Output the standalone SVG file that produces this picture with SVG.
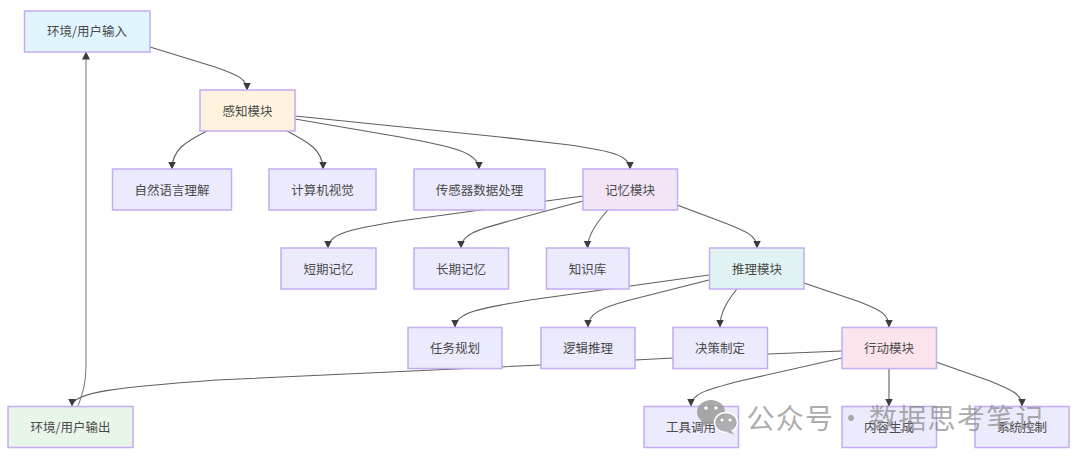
<svg xmlns="http://www.w3.org/2000/svg" width="1080" height="460" viewBox="0 0 1080 460">
<style>
text{font-family:"Noto Sans CJK SC","Liberation Sans",sans-serif;font-size:12.5px;fill:#4a4a4a;text-anchor:middle;dominant-baseline:central}
.n rect{stroke:#c4abf2;stroke-width:1.5;fill:#ebebfd}
.e path{fill:none;stroke:#5f5f5f;stroke-width:1.1;marker-end:url(#a)}
text.wm{font-size:28px;fill:#8c8c8c;fill-opacity:.72;letter-spacing:1.3px;text-anchor:start}
</style>
<defs><marker id="a" markerUnits="userSpaceOnUse" markerWidth="9" markerHeight="8" refX="7.500" refY="4" orient="auto"><path d="M0 0L8 4L0 8z" fill="#3c3c3c"/></marker></defs>
<rect width="1080" height="460" fill="#fff"/>
<g id="connectors" class="e">
<path d="M150 47L215 67C238 75 247 79 247 90"/>
<path d="M207 131C185 142 172 150 172 169"/>
<path d="M287 131C308 142 323 150 323 169"/>
<path d="M295 119L400 137C450 146 479 152 479 169"/>
<path d="M295 116L500 137L570 145C610 151 630 155 630 169"/>
<path d="M583 196L400 221C350 229 328 234 328 248"/>
<path d="M583 201L520 218C485 228 461 232 461 248"/>
<path d="M608 210C597 222 587.500 235 587.500 248"/>
<path d="M677 205L725 223C748 232 757 236 757 248"/>
<path d="M709 275L530 300C480 308 455 313 455 327"/>
<path d="M709 280L630 300C600 308 588 314 588 327"/>
<path d="M737 289C728 300 720 312 720 327"/>
<path d="M804 283L860 302C880 310 889 314 889 327"/>
<path d="M842 351L673 358L541 365L217 380C120 387 72 392 72 406"/>
<path d="M842 358L740 381C705 390 691 394 691 406"/>
<path d="M889 368L889 406"/>
<path d="M936 362L990 381C1012 390 1022 394 1022 406"/>
<path d="M78 406C84 390 86 380 86 365L86 52" style="stroke:#808080"/>
</g>
<g id="n1" class="n"><rect x="24.500" y="11" width="125.500" height="41" style="fill:#e1f5fe"/><text x="87" y="30.500">环境/用户输入</text></g>
<g id="n2" class="n"><rect x="200" y="90" width="95" height="41" style="fill:#fff3e0"/><text x="247.500" y="110">感知模块</text></g>
<g id="n3" class="n"><rect x="112.500" y="169" width="119" height="41"/><text x="172" y="189">自然语言理解</text></g>
<g id="n4" class="n"><rect x="269" y="169" width="107" height="41"/><text x="322.500" y="189">计算机视觉</text></g>
<g id="n5" class="n"><rect x="414" y="169" width="131" height="41"/><text x="479.500" y="189">传感器数据处理</text></g>
<g id="n6" class="n"><rect x="583" y="169" width="94.500" height="41" style="fill:#f3e5f5"/><text x="630" y="189">记忆模块</text></g>
<g id="n7" class="n"><rect x="281" y="248" width="95" height="41"/><text x="328.500" y="268">短期记忆</text></g>
<g id="n8" class="n"><rect x="414" y="248" width="94.500" height="41"/><text x="461" y="268">长期记忆</text></g>
<g id="n9" class="n"><rect x="546.500" y="248" width="82.500" height="41"/><text x="587.500" y="268">知识库</text></g>
<g id="n10" class="n"><rect x="709.500" y="248" width="94.500" height="41" style="fill:#e0f2f1"/><text x="757" y="268">推理模块</text></g>
<g id="n11" class="n"><rect x="408" y="327.500" width="94" height="41"/><text x="455" y="347.500">任务规划</text></g>
<g id="n12" class="n"><rect x="541" y="327.500" width="94" height="41"/><text x="588" y="347.500">逻辑推理</text></g>
<g id="n13" class="n"><rect x="673" y="327.500" width="94.500" height="41"/><text x="720" y="347.500">决策制定</text></g>
<g id="n14" class="n"><rect x="842" y="327.500" width="94.500" height="41" style="fill:#fce4ec"/><text x="889" y="347.500">行动模块</text></g>
<g id="n15" class="n"><rect x="8" y="406.500" width="125" height="41" style="fill:#e8f5e9"/><text x="70.500" y="426.500">环境/用户输出</text></g>
<g id="n16" class="n"><rect x="644" y="406.500" width="94.500" height="41"/><text x="691" y="426.500">工具调用</text></g>
<g id="n17" class="n"><rect x="842" y="406.500" width="94.500" height="41"/><text x="889" y="426.500">内容生成</text></g>
<g id="n18" class="n"><rect x="975" y="406.500" width="94" height="41"/><text x="1022" y="426.500">系统控制</text></g>
<g id="watermark">
<ellipse cx="711" cy="412" rx="14" ry="12" fill="#9a9a9a" fill-opacity=".85"/>
<path d="M702 420L700 428L709 423z" fill="#9a9a9a" fill-opacity=".85"/>
<ellipse cx="726" cy="422.500" rx="11.500" ry="10" fill="#a8a8a8" fill-opacity=".9" stroke="#fff" stroke-width="1.500"/>
<path d="M731 430L734 434.500L726 432z" fill="#a8a8a8" fill-opacity=".9"/>
<circle cx="706" cy="408" r="1.800" fill="#fff"/><circle cx="716" cy="408" r="1.800" fill="#fff"/>
<circle cx="722" cy="420" r="1.500" fill="#fff"/><circle cx="730" cy="420" r="1.500" fill="#fff"/>
<text class="wm" x="746.500" y="416.500">公众号<tspan x="837">·</tspan><tspan x="869">数据思考笔记</tspan></text>
</g>
</svg>
